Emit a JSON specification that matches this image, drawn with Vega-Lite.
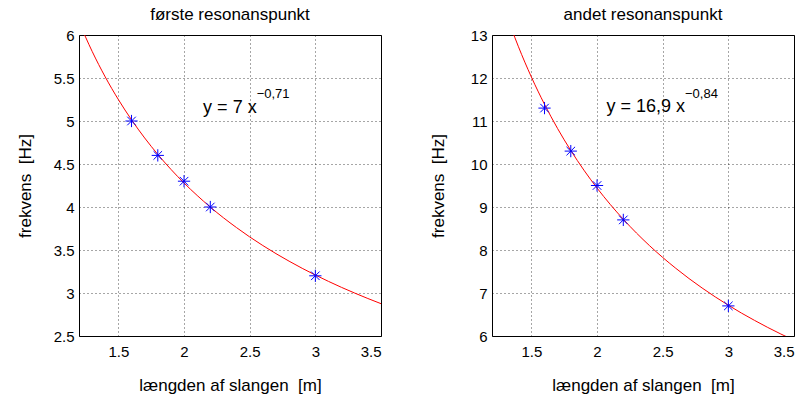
{
  "$schema": "https://vega.github.io/schema/vega-lite/v6.json",
  "padding": {"left": 15, "top": 5, "right": 5, "bottom": 0},
  "background": "white",
  "bounds": "flush",
  "spacing": 111,
  "config": {
    "font": "Liberation Sans",
    "view": {"stroke": "black", "strokeWidth": 1},
    "title": {"fontSize": 17, "fontWeight": "normal", "color": "black", "offset": 4},
    "axis": {
      "domain": false,
      "ticks": false,
      "grid": true,
      "gridColor": "black",
      "gridDash": [1, 3],
      "gridOpacity": 0.7,
      "gridWidth": 1,
      "labelFontSize": 15,
      "labelColor": "black",
      "titleFontSize": 17,
      "titleFontWeight": "normal",
      "titleColor": "black",
      "format": "~g"
    },
    "axisX": {"labelPadding": 8, "labelBaseline": "top", "titleY": 49, "titleBaseline": "middle"},
    "axisY": {"labelPadding": 5, "titleX": -54, "titleY": 150.5, "titleAngle": -90, "titleBaseline": "middle", "titleAlign": "center"}
  },
  "datasets": {
    "curve1": [
      {"x": 1.2, "y": 6.150}, {"x": 1.3, "y": 5.810}, {"x": 1.4, "y": 5.512}, {"x": 1.5, "y": 5.249},
      {"x": 1.6, "y": 5.014}, {"x": 1.7, "y": 4.803}, {"x": 1.8, "y": 4.612}, {"x": 1.9, "y": 4.438},
      {"x": 2.0, "y": 4.279}, {"x": 2.1, "y": 4.134}, {"x": 2.2, "y": 3.999}, {"x": 2.3, "y": 3.875},
      {"x": 2.4, "y": 3.760}, {"x": 2.5, "y": 3.652}, {"x": 2.6, "y": 3.552}, {"x": 2.7, "y": 3.458},
      {"x": 2.8, "y": 3.370}, {"x": 2.9, "y": 3.287}, {"x": 3.0, "y": 3.209}, {"x": 3.1, "y": 3.135},
      {"x": 3.2, "y": 3.065}, {"x": 3.3, "y": 2.999}, {"x": 3.4, "y": 2.936}, {"x": 3.5, "y": 2.876}
    ],
    "curve2": [
      {"x": 1.2, "y": 14.500}, {"x": 1.3, "y": 13.558}, {"x": 1.4, "y": 12.739}, {"x": 1.5, "y": 12.022},
      {"x": 1.6, "y": 11.388}, {"x": 1.7, "y": 10.822}, {"x": 1.8, "y": 10.315}, {"x": 1.9, "y": 9.857},
      {"x": 2.0, "y": 9.441}, {"x": 2.1, "y": 9.062}, {"x": 2.2, "y": 8.715}, {"x": 2.3, "y": 8.395},
      {"x": 2.4, "y": 8.100}, {"x": 2.5, "y": 7.827}, {"x": 2.6, "y": 7.574}, {"x": 2.7, "y": 7.337},
      {"x": 2.8, "y": 7.117}, {"x": 2.9, "y": 6.910}, {"x": 3.0, "y": 6.716}, {"x": 3.1, "y": 6.533},
      {"x": 3.2, "y": 6.362}, {"x": 3.3, "y": 6.199}, {"x": 3.4, "y": 6.046}, {"x": 3.5, "y": 5.900}
    ],
    "points1": [
      {"x": 1.6, "y": 5.0}, {"x": 1.8, "y": 4.6}, {"x": 2.0, "y": 4.3}, {"x": 2.2, "y": 4.0}, {"x": 3.0, "y": 3.2}
    ],
    "points2": [
      {"x": 1.6, "y": 11.3}, {"x": 1.8, "y": 10.3}, {"x": 2.0, "y": 9.5}, {"x": 2.2, "y": 8.7}, {"x": 3.0, "y": 6.7}
    ],
    "eq1": [{"x": 2.553, "y": 5.09, "t": "y = 7 x"}],
    "sup1": [{"x": 2.553, "y": 5.262, "t": "−0,71"}],
    "eq2": [{"x": 2.670, "y": 11.216, "t": "y = 16,9 x"}],
    "sup2": [{"x": 2.670, "y": 11.535, "t": "−0,84"}]
  },
  "hconcat": [
    {
      "width": 302,
      "height": 301,
      "title": "første resonanspunkt",
      "encoding": {
        "x": {"field": "x", "type": "quantitative", "scale": {"domain": [1.2, 3.5], "nice": false, "zero": false},
              "axis": {"values": [1.5, 2, 2.5, 3, 3.5], "title": "længden af slangen \u00a0[m]"}},
        "y": {"field": "y", "type": "quantitative", "scale": {"domain": [2.5, 6], "nice": false, "zero": false},
              "axis": {"values": [2.5, 3, 3.5, 4, 4.5, 5, 5.5, 6], "title": "frekvens \u00a0[Hz]"}}
      },
      "layer": [
        {"data": {"name": "curve1"}, "mark": {"type": "line", "color": "#ff0000", "strokeWidth": 1, "clip": true, "interpolate": "monotone"}},
        {"data": {"name": "points1"}, "mark": {"type": "point", "shape": "M-1,0L1,0M0,-1L0,1M-0.7,-0.7L0.7,0.7M-0.7,0.7L0.7,-0.7", "filled": false, "color": "#0000ff", "size": 150, "strokeWidth": 1, "opacity": 1}},
        {"data": {"name": "eq1"}, "mark": {"type": "text", "align": "right", "baseline": "alphabetic", "fontSize": 18, "color": "black"}, "encoding": {"text": {"field": "t"}}},
        {"data": {"name": "sup1"}, "mark": {"type": "text", "align": "left", "baseline": "alphabetic", "fontSize": 13, "color": "black"}, "encoding": {"text": {"field": "t"}}}
      ]
    },
    {
      "width": 302,
      "height": 301,
      "title": "andet resonanspunkt",
      "encoding": {
        "x": {"field": "x", "type": "quantitative", "scale": {"domain": [1.2, 3.5], "nice": false, "zero": false},
              "axis": {"values": [1.5, 2, 2.5, 3, 3.5], "title": "længden af slangen \u00a0[m]"}},
        "y": {"field": "y", "type": "quantitative", "scale": {"domain": [6, 13], "nice": false, "zero": false},
              "axis": {"values": [6, 7, 8, 9, 10, 11, 12, 13], "title": "frekvens \u00a0[Hz]"}}
      },
      "layer": [
        {"data": {"name": "curve2"}, "mark": {"type": "line", "color": "#ff0000", "strokeWidth": 1, "clip": true, "interpolate": "monotone"}},
        {"data": {"name": "points2"}, "mark": {"type": "point", "shape": "M-1,0L1,0M0,-1L0,1M-0.7,-0.7L0.7,0.7M-0.7,0.7L0.7,-0.7", "filled": false, "color": "#0000ff", "size": 150, "strokeWidth": 1, "opacity": 1}},
        {"data": {"name": "eq2"}, "mark": {"type": "text", "align": "right", "baseline": "alphabetic", "fontSize": 18, "color": "black"}, "encoding": {"text": {"field": "t"}}},
        {"data": {"name": "sup2"}, "mark": {"type": "text", "align": "left", "baseline": "alphabetic", "fontSize": 13, "color": "black"}, "encoding": {"text": {"field": "t"}}}
      ]
    }
  ]
}
